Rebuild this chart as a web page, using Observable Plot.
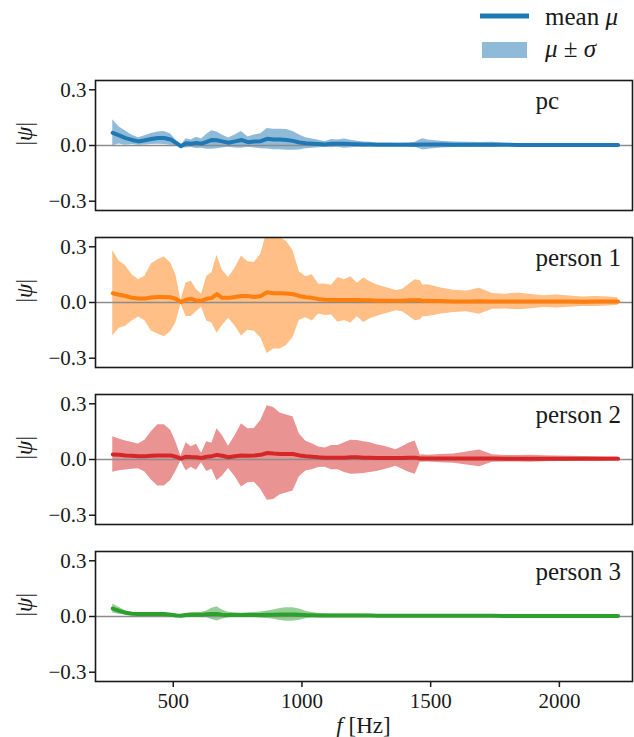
<!DOCTYPE html>
<html><head><meta charset="utf-8">
<script src="https://cdn.jsdelivr.net/npm/d3@7"></script>
<script src="https://cdn.jsdelivr.net/npm/@observablehq/plot@0.6"></script>
<style>
body{margin:0;background:#fff;font-family:"Liberation Serif",serif;}
#legend{display:block;}
svg text{font-family:"Liberation Serif",serif;}
</style></head><body>
<div id="legend"></div>
<div id="chart"></div>
<script>
const whos = ["pc","person 1","person 2","person 3"];
const colors = ["#1f77b4","#ff7f0e","#d62728","#2ca02c"];
const xTicks = [500,1000,1500,2000];
const yTicks = [-0.3,0,0.3];

const freq = [265,290,315,340,365,390,415,440,465,490,
  510,530,550,570,590,610,630,650,670,690,
  715,740,765,790,815,840,865,890,915,940,
  965,990,1015,1040,1065,1090,1115,1140,1165,1190,
  1215,1240,1265,1290,1315,1340,1365,1390,1415,1440,
  1460,1470,1490,1540,1590,1640,1690,1740,1790,1840,
  1890,1940,1990,2040,2090,2140,2190,2228];

const pcMean = [.068,.054,.04,.03,.022,.028,.035,.04,.04,.032,
  .015,-.004,.012,.009,.014,.01,.02,.03,.028,.022,
  .015,.022,.03,.018,.022,.023,.036,.032,.032,.03,
  .025,.016,.012,.01,.008,.005,.01,.01,.01,.008,
  .007,.005,.005,.004,.004,.004,.004,.004,.004,.004,
  .006,.006,.005,.005,.004,.004,.004,.004,.004,.003,
  .003,.003,.003,.003,.003,.003,.003,.003];
const pcSigma = [.07,.046,.038,.025,.02,.025,.03,.033,.035,.03,
  .015,.006,.025,.02,.03,.025,.04,.05,.045,.035,
  .025,.035,.045,.028,.035,.04,.055,.055,.055,.056,
  .05,.04,.03,.025,.02,.015,.022,.02,.025,.02,
  .016,.014,.012,.01,.009,.009,.008,.008,.01,.014,
  .025,.03,.025,.018,.015,.013,.012,.014,.008,.007,
  .006,.006,.005,.004,.004,.004,.004,.004];

const p1Mean = [.05,.042,.035,.025,.022,.022,.027,.03,.03,.028,
  .02,.002,.015,.02,.01,.01,.02,.025,.045,.025,
  .025,.03,.035,.035,.03,.035,.055,.05,.05,.048,
  .045,.035,.028,.025,.018,.015,.013,.014,.013,.014,
  .013,.012,.012,.01,.01,.01,.01,.01,.012,.012,
  .012,.008,.01,.008,.006,.006,.007,.006,.005,.006,
  .005,.005,.005,.005,.004,.005,.005,.005];
const p1Sigma = [.23,.18,.163,.125,.10,.12,.18,.2,.215,.185,
  .13,.01,.09,.095,.06,.035,.12,.135,.21,.15,
  .11,.155,.215,.185,.185,.225,.33,.30,.30,.28,
  .235,.13,.11,.125,.08,.085,.08,.12,.11,.125,
  .09,.12,.1,.085,.075,.065,.055,.06,.085,.11,
  .105,.085,.085,.07,.06,.056,.07,.043,.04,.045,
  .038,.032,.035,.03,.026,.027,.024,.02];

const p2Mean = [.027,.025,.022,.02,.017,.018,.02,.022,.022,.022,
  .015,.005,.015,.013,.012,.008,.015,.018,.025,.02,
  .012,.018,.022,.02,.022,.025,.035,.032,.03,.03,
  .03,.022,.018,.015,.012,.01,.01,.01,.01,.012,
  .012,.01,.01,.008,.008,.008,.008,.008,.01,.01,
  .005,.005,.005,.005,.005,.006,.006,.005,.004,.004,
  .004,.004,.004,.004,.004,.004,.004,.004];
const p2Sigma = [.095,.085,.078,.072,.067,.085,.13,.165,.165,.135,
  .08,.012,.075,.055,.07,.025,.08,.07,.14,.11,
  .06,.11,.17,.145,.145,.185,.255,.248,.22,.21,
  .2,.115,.08,.07,.055,.052,.065,.065,.08,.092,
  .09,.086,.08,.072,.065,.055,.045,.06,.078,.09,
  .018,.02,.018,.022,.025,.035,.045,.02,.018,.018,
  .019,.016,.015,.013,.012,.011,.01,.009];

const p3Mean = [.043,.03,.02,.015,.014,.014,.013,.014,.013,.01,
  .005,.004,.008,.01,.01,.01,.012,.014,.014,.01,
  .008,.008,.008,.008,.008,.008,.009,.01,.011,.011,
  .011,.01,.008,.007,.006,.005,.005,.005,.005,.005,
  .005,.005,.005,.004,.004,.004,.004,.004,.004,.004,
  .004,.004,.004,.004,.004,.004,.004,.004,.003,.003,
  .003,.003,.003,.003,.003,.003,.003,.003];
const p3Sigma = [.024,.018,.01,.007,.007,.006,.006,.007,.006,.006,
  .008,.007,.008,.01,.011,.012,.018,.03,.038,.025,
  .015,.012,.01,.012,.014,.016,.02,.025,.032,.036,
  .036,.03,.02,.014,.01,.01,.009,.009,.008,.008,
  .008,.007,.007,.007,.006,.006,.006,.006,.006,.006,
  .006,.006,.006,.005,.005,.005,.005,.005,.005,.005,
  .004,.004,.004,.004,.004,.004,.004,.004];

const means = [pcMean,p1Mean,p2Mean,p3Mean];
const sigmas = [pcSigma,p1Sigma,p2Sigma,p3Sigma];

const rows = [];
whos.forEach((w,i)=>freq.forEach((f,j)=>rows.push({who:w,f:f,m:means[i][j],s:sigmas[i][j]})));

const FONT = "Liberation Serif, serif";

// Legend
const leg = d3.select("#legend").append("svg").attr("width",634).attr("height",75).style("display","block");
leg.append("rect").attr("x",480).attr("y",13.5).attr("width",49).attr("height",5).attr("fill",colors[0]);
const t1 = leg.append("text").attr("x",545).attr("y",25).attr("font-family",FONT).attr("font-size",25).attr("fill","#1a1a1a");
t1.append("tspan").text("mean ");
t1.append("tspan").attr("font-style","italic").text("μ");
leg.append("rect").attr("x",482).attr("y",42).attr("width",45).attr("height",16).attr("fill",colors[0]).attr("fill-opacity",0.5);
const t2 = leg.append("text").attr("x",545).attr("y",57).attr("font-family",FONT).attr("font-size",25).attr("fill","#1a1a1a");
t2.append("tspan").attr("font-style","italic").text("μ");
t2.append("tspan").text(" ± ");
t2.append("tspan").attr("font-style","italic").text("σ");

const fmtY = d => (d < 0 ? "−" : "") + Math.abs(d).toFixed(1);

const plot = Plot.plot({
  width: 634, height: 662,
  marginTop: 5, marginBottom: 55, marginLeft: 95, marginRight: 2,
  style: {fontFamily: FONT, fontSize: "21px", color: "#1a1a1a", background: "#fff"},
  x: {domain: [198, 2284]},
  y: {domain: [-0.35, 0.35]},
  fy: {domain: whos, paddingInner: 0.17, paddingOuter: 0, axis: null},
  color: {domain: whos, range: colors},
  marks: [
    Plot.areaY(rows, {fy: "who", x: "f", y1: d => d.m - d.s, y2: d => d.m + d.s, fill: "who", fillOpacity: 0.5, clip: true}),
    Plot.ruleY([0], {stroke: "#8c8c8c", strokeWidth: 1.5}),
    Plot.lineY(rows, {fy: "who", x: "f", y: "m", stroke: "who", strokeWidth: 4}),
    Plot.frame({stroke: "#1a1a1a", strokeWidth: 1.6}),
    Plot.axisY({ticks: yTicks, tickFormat: fmtY, tickSize: 6, tickPadding: 3, label: null, strokeWidth: 1.5, fontFamily: FONT, fontVariant: "normal"}),
    Plot.axisX({ticks: xTicks, tickFormat: d => String(d), tickSize: 6, tickPadding: 6, label: null, strokeWidth: 1.5, fontFamily: FONT, fontVariant: "normal"}),
    Plot.text(whos, {fy: d => d, text: d => d, frameAnchor: "top-left", textAnchor: "start", lineAnchor: "bottom", dx: 440, dy: 28, fontSize: 25}),
    Plot.text(whos, {fy: d => d, text: () => "|ψ|", frameAnchor: "left", rotate: -90, dx: -71, fontSize: 23})
  ]
});

d3.select(plot).selectAll("text").filter(function(){ return this.textContent === "|ψ|"; })
  .html('|<tspan font-style="italic">ψ</tspan>|');

const xr = plot.scale("x").range;
const xl = d3.select(plot).append("text")
  .attr("x", (xr[0] + xr[1]) / 2).attr("y", 658)
  .attr("text-anchor", "middle").attr("font-family", FONT).attr("font-size", 23).attr("fill", "#1a1a1a");
xl.append("tspan").attr("font-style", "italic").text("f");
xl.append("tspan").text(" [Hz]");

document.getElementById("chart").appendChild(plot);
</script>
</body></html>
